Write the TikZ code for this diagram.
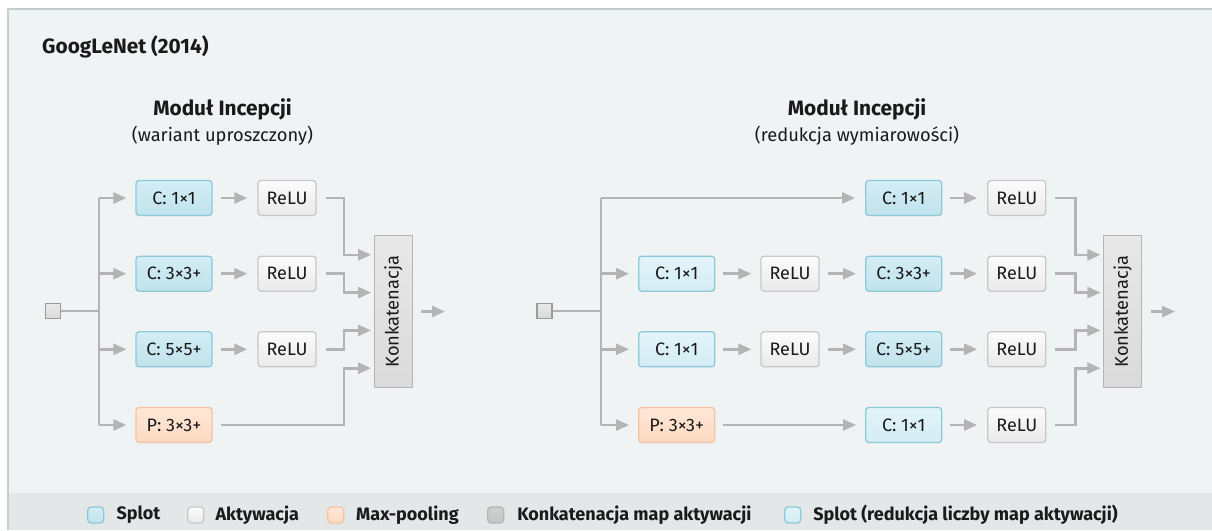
\documentclass[tikz,border=0pt]{standalone}
\usepackage{fontspec}
\setmainfont{Fira Sans}
\usetikzlibrary{arrows.meta,calc}

\definecolor{bgc}{HTML}{EFF3F4}
\definecolor{framec}{HTML}{C5CBCE}
\definecolor{legbg}{HTML}{E3E7E8}
\definecolor{convtop}{HTML}{D3EDF5}
\definecolor{convbot}{HTML}{C1E2EC}
\definecolor{convdraw}{HTML}{8CC9DA}
\definecolor{redtop}{HTML}{E3F4F9}
\definecolor{redbot}{HTML}{D3ECF4}
\definecolor{actop}{HTML}{FCFCFC}
\definecolor{acbot}{HTML}{E9E9E9}
\definecolor{acdraw}{HTML}{C8C8C8}
\definecolor{pooltop}{HTML}{FFE7D7}
\definecolor{poolbot}{HTML}{FDD9C2}
\definecolor{pooldraw}{HTML}{F4C3A2}
\definecolor{cattop}{HTML}{E8E8E8}
\definecolor{catbot}{HTML}{DADADA}
\definecolor{catdraw}{HTML}{B6B6B6}
\definecolor{wire}{HTML}{B4B4B4}
\definecolor{textc}{HTML}{1A1A1A}

\tikzset{
  box/.style={rounded corners=3, minimum height=35, inner sep=0, line width=1.3,
    text=textc, font=\fontsize{18}{21}\selectfont},
  conv/.style={box, minimum width=76, draw=convdraw, top color=convtop, bottom color=convbot},
  redconv/.style={box, minimum width=76, draw=convdraw, top color=redtop, bottom color=redbot},
  act/.style={box, minimum width=58, draw=acdraw, top color=actop, bottom color=acbot},
  pool/.style={box, minimum width=76, draw=pooldraw, top color=pooltop, bottom color=poolbot},
  concat/.style={draw=catdraw, line width=1.3, top color=cattop, bottom color=catbot,
    minimum width=152, minimum height=38, inner sep=0, rotate=90,
    text=textc, font=\fontsize{18.3}{21}\selectfont},
  inbox/.style={draw=catdraw!85!black, line width=1.2, top color=cattop, bottom color=catbot,
    minimum size=15, inner sep=0},
  wireline/.style={draw=wire, line width=2.6},
  arr/.style={wireline, -{Triangle[length=13,width=11]}},
  swatch/.style={rounded corners=3.5, line width=1.3, minimum size=16, inner sep=0},
  legtext/.style={anchor=west, text=textc, font=\bfseries\fontsize{18}{21}\selectfont},
}

\begin{document}
\begin{tikzpicture}[x=1pt,y=-1pt]
% page and frame
\useasboundingbox (0,0) rectangle (1212,530);
\fill[white] (0,0) rectangle (1212,530);
\fill[bgc] (8,9) rectangle (1212,530);
\fill[legbg] (8,492.7) rectangle (1212,530);
\draw[framec, line width=1.3] (8,530) -- (8,9) -- (1212,9);

% headings
\node[anchor=west, inner xsep=0, text=textc, font=\bfseries\fontsize{20.8}{24}\selectfont] (title) at (42,47) {GoogLeNet (2014)};
\node[text=textc, font=\bfseries\fontsize{20.8}{24}\selectfont] (hA) at (222.5,109) {Moduł Incepcji};
\node[text=textc, font=\fontsize{18.3}{21}\selectfont] (sA) at (222.5,136) {(wariant uproszczony)};
\node[text=textc, font=\bfseries\fontsize{20.8}{24}\selectfont] (hB) at (857,109) {Moduł Incepcji};
\node[text=textc, font=\fontsize{18.3}{21}\selectfont] (sB) at (857,136) {(redukcja wymiarowości)};

% ---------- simplified inception module ----------
\node[inbox] (inA) at (53,311) {};
\coordinate (busA) at (99,311);
\node[conv] (cA1) at (174,198) {C: 1×1};
\node[conv] (cA2) at (174,273.7) {C: 3×3+};
\node[conv] (cA3) at (174,349.3) {C: 5×5+};
\node[pool] (pA)  at (174,425) {P: 3×3+};
\node[act] (rA1) at (287,198) {ReLU};
\node[act] (rA2) at (287,273.7) {ReLU};
\node[act] (rA3) at (287,349.3) {ReLU};
\node[concat] (kA) at (393.3,311.5) {Konkatenacja};
\coordinate (bA) at (344,311);
\coordinate (oA) at (445,311.5);
\coordinate (kAi1) at ([yshift=56.7]kA.north);
\coordinate (kAi2) at ([yshift=18.9]kA.north);
\coordinate (kAi3) at ([yshift=-18.9]kA.north);
\coordinate (kAi4) at ([yshift=-56.7]kA.north);

\draw[wireline] (inA) -- (busA);
\draw[wireline] (busA |- cA1) -- (busA |- pA);
\foreach \n in {cA1,cA2,cA3,pA}
  \draw[arr, shorten >=9] (busA |- \n) -- (\n);
\foreach \a/\b in {cA1/rA1,cA2/rA2,cA3/rA3}
  \draw[arr, shorten <=8, shorten >=10] (\a) -- (\b);
\draw[arr, shorten <=9, shorten >=2.6] (rA1.east) -- (bA |- rA1) |- (kAi1);
\draw[arr, shorten <=9, shorten >=2.6] (rA2.east) -- (bA |- rA2) |- (kAi2);
\draw[arr, shorten <=9, shorten >=2.6] (rA3.east) -- (bA |- rA3) |- (kAi3);
\draw[arr, shorten <=8, shorten >=2.6] (pA.east) -- (bA |- pA) |- (kAi4);
\draw[arr, shorten <=8.4] (kA) -- (oA);

% ---------- inception module with dimension reduction ----------
\node[inbox] (inB) at (544.5,311) {};
\coordinate (busB) at (601,311);
\node[redconv] (dB2) at (676.7,273.7) {C: 1×1};
\node[redconv] (dB3) at (676.7,349.3) {C: 1×1};
\node[pool] (pB) at (676.7,425) {P: 3×3+};
\node[act] (qB2) at (790,273.7) {ReLU};
\node[act] (qB3) at (790,349.3) {ReLU};
\node[conv] (cB1) at (903.7,198) {C: 1×1};
\node[conv] (cB2) at (903.7,273.7) {C: 3×3+};
\node[conv] (cB3) at (903.7,349.3) {C: 5×5+};
\node[redconv] (cB4) at (903.7,425) {C: 1×1};
\node[act] (rB1) at (1016.8,198) {ReLU};
\node[act] (rB2) at (1016.8,273.7) {ReLU};
\node[act] (rB3) at (1016.8,349.3) {ReLU};
\node[act] (rB4) at (1016.8,425) {ReLU};
\node[concat] (kB) at (1122.7,311.5) {Konkatenacja};
\coordinate (bB) at (1075.7,311);
\coordinate (oB) at (1175,311.5);
\coordinate (kBi1) at ([yshift=56.7]kB.north);
\coordinate (kBi2) at ([yshift=18.9]kB.north);
\coordinate (kBi3) at ([yshift=-18.9]kB.north);
\coordinate (kBi4) at ([yshift=-56.7]kB.north);

\draw[wireline] (inB) -- (busB);
\draw[wireline] (busB |- cB1) -- (busB |- pB);
\draw[arr, shorten >=10] (busB |- cB1) -- (cB1);
\foreach \n in {dB2,dB3,pB}
  \draw[arr, shorten >=9] (busB |- \n) -- (\n);
\draw[arr, shorten <=8, shorten >=9] (dB2) -- (qB2);
\draw[arr, shorten <=8, shorten >=9] (dB3) -- (qB3);
\draw[arr, shorten <=8, shorten >=9] (qB2) -- (cB2);
\draw[arr, shorten <=8, shorten >=9] (qB3) -- (cB3);
\draw[arr, shorten <=8, shorten >=9] (pB) -- (cB4);
\foreach \a/\b in {cB1/rB1,cB2/rB2,cB3/rB3,cB4/rB4}
  \draw[arr, shorten <=8, shorten >=10] (\a) -- (\b);
\draw[arr, shorten <=8.5, shorten >=2.6] (rB1.east) -- (bB |- rB1) |- (kBi1);
\draw[arr, shorten <=8.5, shorten >=2.6] (rB2.east) -- (bB |- rB2) |- (kBi2);
\draw[arr, shorten <=8.5, shorten >=2.6] (rB3.east) -- (bB |- rB3) |- (kBi3);
\draw[arr, shorten <=8.5, shorten >=2.6] (rB4.east) -- (bB |- rB4) |- (kBi4);
\draw[arr, shorten <=8.4] (kB) -- (oB);

% ---------- legend ----------
\node[swatch, draw=convdraw, top color=convtop, bottom color=convbot] (l1) at (95.7,515) {};
\node[legtext] (t1) at (113,515) {Splot};
\node[swatch, draw=acdraw, top color=actop, bottom color=acbot] (l2) at (195.7,515) {};
\node[legtext] (t2) at (212,515) {Aktywacja};
\node[swatch, draw=pooldraw, top color=pooltop, bottom color=poolbot] (l3) at (335.7,515) {};
\node[legtext] (t3) at (352.7,515) {Max-pooling};
\node[swatch, draw=catdraw, top color=cattop!90!black, bottom color=catbot!90!black] (l4) at (495.7,515) {};
\node[legtext] (t4) at (513.8,515) {Konkatenacja map aktywacji};
\node[swatch, draw=convdraw, top color=redtop, bottom color=redbot] (l5) at (792.8,515) {};
\node[legtext] (t5) at (809.8,515) {Splot (redukcja liczby map aktywacji)};
\end{tikzpicture}
\end{document}
